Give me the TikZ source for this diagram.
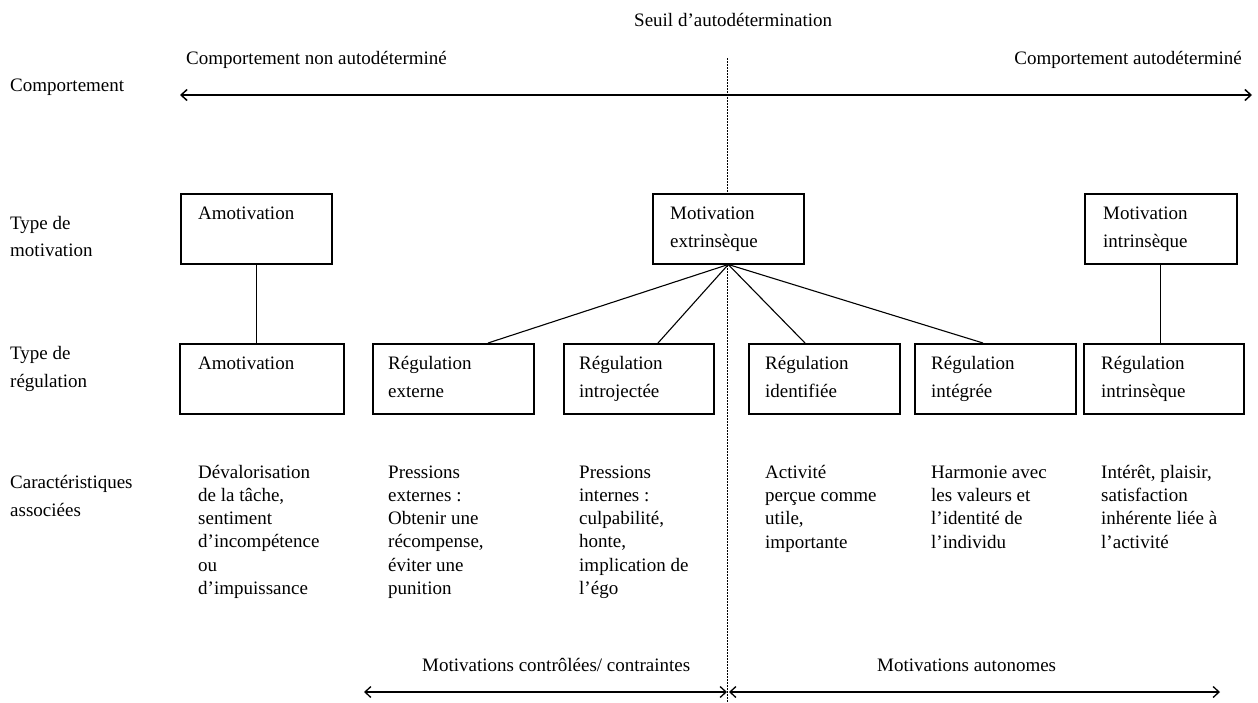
\documentclass[tikz,border=0pt]{standalone}
\usepackage{fontspec}
\setmainfont{Liberation Serif}
\usetikzlibrary{arrows.meta,calc}
\begin{document}
\begin{tikzpicture}[x=1pt,y=-1pt,
  box/.style={draw, fill=white, line width=1.5pt, inner sep=0pt, anchor=north west, minimum height=70pt},
  txt/.style={anchor=base west, inner sep=0pt, align=left, font=\fontsize{19}{28}\selectfont},
  chr/.style={anchor=base west, inner sep=0pt, align=left, font=\fontsize{19}{23.3}\selectfont},
  link/.style={line width=1.1pt},
  harrow/.style={line width=1.5pt, {Straight Barb[length=6pt,width=11pt]}-{Straight Barb[length=6pt,width=11pt]}},
  seuil/.style={line width=1pt, dash pattern=on 1.5pt off 1.5pt}
]
\useasboundingbox (0,0) rectangle (1258,702);
\fill[white] (0,0) rectangle (1258,702);

% threshold
\coordinate (st) at (727,58);
\coordinate (sb) at (727,702);
\draw[seuil] (st) -- (sb);
\node[txt] (tseuil) at (634,26) {Seuil d’autodétermination};

% top labels and behaviour arrow
\node[txt] (tnon) at (186,64) {Comportement non autodéterminé};
\node[txt, anchor=base east] (tauto) at (1242,64) {Comportement autodéterminé};
\node[txt] (lcomp) at (10,91) {Comportement};
\coordinate (cl) at (180,95);
\coordinate (cr) at (1252,95);
\draw[harrow] (cl) -- (cr);

% left labels (base = last line)
\node[txt, font=\fontsize{19}{27}\selectfont] (ltm) at (10,256) {Type de\\motivation};
\node[txt] (ltr) at (10,387) {Type de\\régulation};
\node[txt] (lca) at (10,516) {Caractéristiques\\associées};

% upper boxes
\node[box, minimum width=151pt] (a1) at (180,193) {};
\node[box, minimum width=151pt] (e1) at (652,193) {};
\node[box, minimum width=152pt] (i1) at (1084,193) {};
\node[txt] (ta1) at (198,219) {Amotivation};
\node[txt] (te1) at (670,247) {Motivation\\extrinsèque};
\node[txt] (ti1) at (1103,247) {Motivation\\intrinsèque};

% lower boxes
\node[box, minimum width=164pt] (ra) at (179,343) {};
\node[box, minimum width=161pt] (r2) at (372,343) {};
\node[box, minimum width=150pt] (r3) at (563,343) {};
\node[box, minimum width=151pt] (r4) at (748,343) {};
\node[box, minimum width=161pt] (r5) at (914,343) {};
\node[box, minimum width=160pt] (ri) at (1083,343) {};
\node[txt] (tra) at (198,369) {Amotivation};
\node[txt] (tr2) at (388,397) {Régulation\\externe};
\node[txt] (tr3) at (579,397) {Régulation\\introjectée};
\node[txt] (tr4) at (765,397) {Régulation\\identifiée};
\node[txt] (tr5) at (931,397) {Régulation\\intégrée};
\node[txt] (tri) at (1101,397) {Régulation\\intrinsèque};

% connectors
\draw[link] (a1.south) -- (a1.south |- ra.north);
\draw[link] (i1.south) -- (i1.south |- ri.north);
\draw[link] (e1.south) -- ([xshift=116pt]r2.north west);
\draw[link] (e1.south) -- ([xshift=95pt]r3.north west);
\draw[link] (e1.south) -- ([xshift=57pt]r4.north west);
\draw[link] (e1.south) -- ([xshift=69pt]r5.north west);

% characteristics (base = last line)
\node[chr] (c1) at (198,594.5) {Dévalorisation\\de la tâche,\\sentiment\\d’incompétence\\ou\\d’impuissance};
\node[chr] (c2) at (388,594.5) {Pressions\\externes :\\Obtenir une\\récompense,\\éviter une\\punition};
\node[chr] (c3) at (579,594.5) {Pressions\\internes :\\culpabilité,\\honte,\\implication de\\l’égo};
\node[chr] (c4) at (765,548) {Activité\\perçue comme\\utile,\\importante};
\node[chr] (c5) at (931,548) {Harmonie avec\\les valeurs et\\l’identité de\\l’individu};
\node[chr] (c6) at (1101,548) {Intérêt, plaisir,\\satisfaction\\inhérente liée à\\l’activité};

% bottom
\node[txt] (tctrl) at (422,671) {Motivations contrôlées/ contraintes};
\node[txt] (taut) at (877,671) {Motivations autonomes};
\coordinate (bl) at (364,692);
\coordinate (bm1) at (727,692);
\coordinate (bm2) at (729,692);
\coordinate (br) at (1220,692);
\draw[harrow, line width=1.3pt] (bl) -- (bm1);
\draw[harrow, line width=1.3pt] (bm2) -- (br);
\end{tikzpicture}
\end{document}
